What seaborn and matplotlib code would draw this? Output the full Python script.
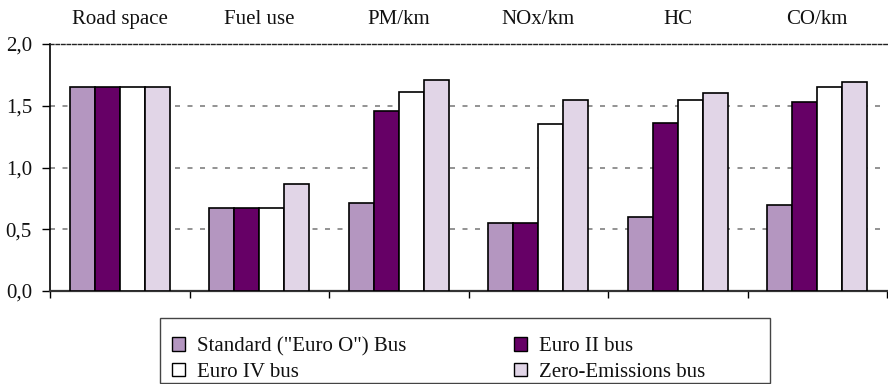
import matplotlib
matplotlib.use("Agg")
import matplotlib.pyplot as plt
import seaborn as sns
import pandas as pd
from matplotlib.patches import Patch, Rectangle

categories = ["Road space", "Fuel use", "PM/km", "NOx/km", "HC", "CO/km"]
series = ['Standard ("Euro O") Bus', "Euro II bus", "Euro IV bus", "Zero-Emissions bus"]
standard = [1.65, 0.67, 0.71, 0.55, 0.60, 0.70]
euro2 = [1.65, 0.67, 1.46, 0.55, 1.36, 1.53]
euro4 = [1.65, 0.67, 1.61, 1.35, 1.55, 1.65]
zero = [1.65, 0.87, 1.71, 1.55, 1.60, 1.69]
colors = ["#B496C0", "#660066", "#FFFFFF", "#E1D5E7"]
yticks = [0.0, 0.5, 1.0, 1.5, 2.0]
ytick_labels = ["0,0", "0,5", "1,0", "1,5", "2,0"]

rows = []
for name, vals in zip(series, [standard, euro2, euro4, zero]):
    for c, v in zip(categories, vals):
        rows.append({"cat": c, "val": v, "bus": name})
df = pd.DataFrame(rows)

sns.set_theme(style="white")
plt.rcParams["font.family"] = ["Liberation Serif", "DejaVu Serif"]
FS = 15
FSPX = FS * 100 / 72.0

fig = plt.figure(figsize=(8.88, 3.84), dpi=100)
W, H = 888, 384
ax = fig.add_axes([50 / W, 1 - 291 / H, (887 - 50) / W, (291 - 44) / H])

sns.barplot(data=df, x="cat", y="val", hue="bus", hue_order=series, order=categories,
            palette=colors, edgecolor="black", linewidth=1.2, width=0.72,
            saturation=1, ax=ax, zorder=3)
if ax.get_legend() is not None:
    ax.get_legend().remove()

ax.set_xlim(-0.5, len(categories) - 0.5)
ax.set_ylim(0, 2.0)
ax.set_xlabel("")
ax.set_ylabel("")

ax.set_xticks(range(len(categories)))
ax.set_xticklabels(categories, fontsize=FS, color="#111111")
ax.set_xticks([i - 0.5 for i in range(len(categories) + 1)], minor=True)
ax.tick_params(axis="x", which="major", bottom=False, top=False,
               labelbottom=False, labeltop=True, pad=5)
ax.tick_params(axis="x", which="minor", bottom=True, top=False, direction="out",
               length=5, width=1, color="black")

ax.set_yticks(yticks)
ax.set_yticklabels(ytick_labels, fontsize=FS, color="#111111")
ax.tick_params(axis="y", which="major", left=True, direction="out", length=6,
               width=1, color="black", pad=7)

ax.spines["right"].set_visible(False)
ax.spines["left"].set_color("black")
ax.spines["left"].set_linewidth(1.2)
ax.spines["bottom"].set_color("#333333")
ax.spines["bottom"].set_linewidth(1.6)
ax.spines["top"].set_color("#222222")
ax.spines["top"].set_linewidth(1.0)
ax.spines["top"].set_linestyle((0, (2.5, 1.5)))

ax.yaxis.grid(True, color="#808080", linestyle=(0, (3, 4.5)), linewidth=1.2, zorder=0)
ax.set_axisbelow(True)
gl = ax.yaxis.get_gridlines()
gl[0].set_visible(False)
gl[-1].set_visible(False)

# legend frame
fig.patches.append(Rectangle((160 / W, 1 / H), (770 - 160) / W, (383 - 318) / H,
                             transform=fig.transFigure, facecolor="white",
                             edgecolor="#444444", linewidth=1.0, zorder=1))

handles = [Patch(facecolor=c, edgecolor="black", linewidth=1.0) for c in colors]
order = [0, 2, 1, 3]
colspace_px = 512 - (173 + 13 + 12 + 206)
leg = fig.legend([handles[i] for i in order], [series[i] for i in order],
                 ncol=2, loc="upper left",
                 bbox_to_anchor=(172 / W, 1 - 337 / H),
                 fontsize=FS, frameon=False,
                 handlelength=13 / FSPX, handleheight=13 / FSPX,
                 handletextpad=12 / FSPX, labelspacing=0.3, borderaxespad=0.0,
                 borderpad=0.0, columnspacing=colspace_px / FSPX)
leg.set_zorder(2)
for t in leg.get_texts():
    t.set_color("#111111")

fig.savefig("out.png", dpi=100, facecolor="white")
